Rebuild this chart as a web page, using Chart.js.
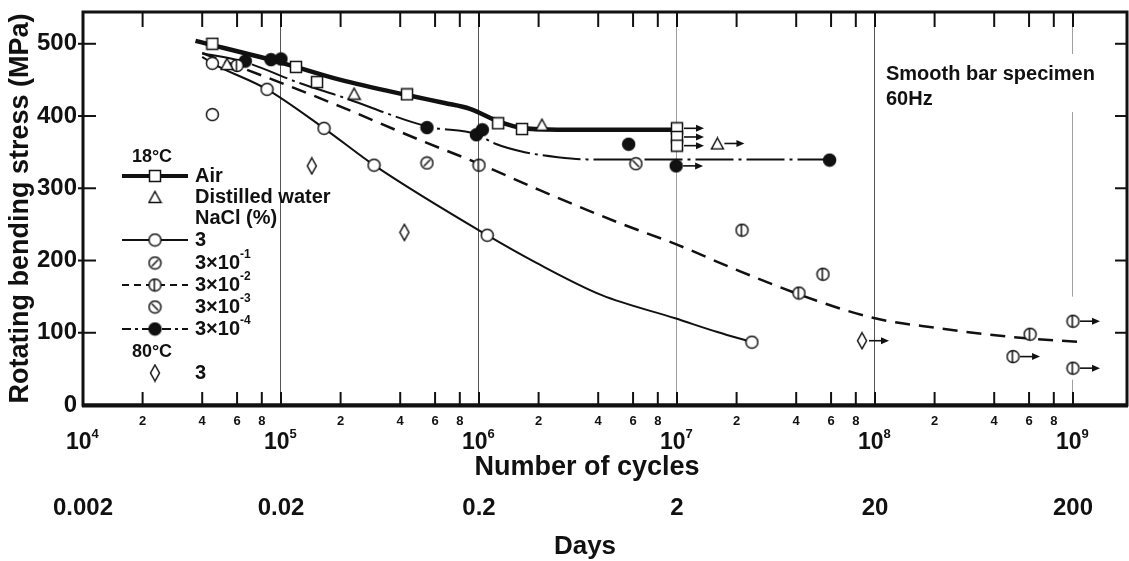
<!DOCTYPE html>
<html>
<head>
<meta charset="utf-8">
<script src="https://cdn.jsdelivr.net/npm/chart.js@4.4.1/dist/chart.umd.min.js"></script>
<style>
  html, body { margin: 0; padding: 0; background: #fff; overflow: hidden; }
  #wrap { width: 1129px; height: 561px; }
  canvas { display: block; }
</style>
</head>
<body>
<div id="wrap"><canvas id="c" width="1129" height="561"></canvas></div>
<script>
// ---------------- DATA ----------------
// Fitted curves [cycles, MPa]
const airCurve      = [[3.7e4,504],[1e5,474],[2e5,450],[4.5e5,428],[6.7e5,418],[9e5,410],[1.27e6,392],[1.7e6,383],[2.5e6,381],[1e7,381]];
const nacl3Curve    = [[4e4,482],[4.5e4,473],[8.5e4,437],[1.65e5,383],[2.95e5,332],[1.1e6,235],[1.94e6,197],[4.17e6,152],[9.8e6,120],[1.6e7,101],[2.39e7,87]];
const nacl3e2Curve  = [[4e4,487],[1e5,446],[2e5,413],[5e5,367],[1e6,334],[2e6,298],[5e6,253],[1e7,222],[2e7,187],[5e7,145],[1e8,120],[2e8,107],[5e8,94],[1.1e9,87]];
const nacl3e4Curve  = [[4e4,487],[6.5e4,475],[1.23e5,446],[2e5,427],[5.6e5,385],[9.7e5,375],[1.2e6,362],[1.7e6,350],[2.5e6,343],[3.5e6,340],[6e7,340]];

// Test points [cycles, MPa] and run-out flags (1 = not broken, arrow)
const airPts        = [[4.5e4,500],[1.19e5,468],[1.52e5,447],[4.33e5,430],[1.25e6,390],[1.65e6,382],[1e7,383],[1e7,371],[1e7,359]];
const airRunout     = [0,0,0,0,0,0,1,1,1];
const waterPts      = [[5.34e4,472],[2.34e5,431],[2.08e6,388],[1.6e7,362]];
const waterRunout   = [0,0,0,1];
const nacl3Pts      = [[4.5e4,473],[4.5e4,402],[8.5e4,437],[1.65e5,383],[2.95e5,332],[1.1e6,235],[2.39e7,87]];
const nacl3e1Pts    = [[5.46e5,335]];
const nacl3e2Pts    = [[6e4,470],[1e6,332],[2.13e7,242],[4.13e7,155],[5.46e7,181],[6.07e8,98],[4.98e8,67],[1e9,116],[1e9,51]];
const nacl3e2Runout = [0,0,0,0,0,0,1,1,1];
const nacl3e3Pts    = [[6.2e6,334]];
const nacl3e4Pts    = [[6.6e4,476],[8.9e4,478],[1e5,479],[5.46e5,384],[9.7e5,374],[1.04e6,381],[5.7e6,361],[9.9e6,331],[5.9e7,339]];
const nacl3e4Runout = [0,0,0,0,0,0,0,1,0];
const hot3Pts       = [[1.43e5,331],[4.2e5,239],[8.6e7,89]];
const hot3Runout    = [0,0,1];

// Axis ticks / labels
const yTicks        = [0,100,200,300,400,500];
const decadeExps    = [4,5,6,7,8,9];
const minorMults    = [2,4,6,8];
const dayTicks      = [0.002,0.02,0.2,2,20,200];
const dayLabels     = ['0.002','0.02','0.2','2','20','200'];
const CYCLES_PER_DAY_UNIT = 5e6; // 0.002 day label sits at 1e4 cycles

// ---------------- STYLE ----------------
const FAM = "'Liberation Sans', Arial, sans-serif";
const F = (s) => `bold ${s}px ${FAM}`;
const INK = '#111';
const XMIN = 1e4, XMAX = 1.874e9;

function sym(w, h, draw) {
  const c = document.createElement('canvas');
  c.width = w; c.height = h;
  const g = c.getContext('2d');
  g.strokeStyle = INK; g.fillStyle = '#fff'; g.lineWidth = 1.5;
  draw(g, w, h);
  return c;
}
function circ(g) { g.beginPath(); g.arc(7.5, 7.5, 6, 0, Math.PI * 2); g.fill(); g.stroke(); }
const SQ   = sym(14, 14, g => { g.fillRect(1.5, 1.5, 11, 11); g.strokeRect(1.5, 1.5, 11, 11); });
const TRI  = sym(15, 14, g => { g.beginPath(); g.moveTo(7.5, 1.5); g.lineTo(13.5, 12.5); g.lineTo(1.5, 12.5); g.closePath(); g.fill(); g.stroke(); });
const CIR  = sym(15, 15, circ);
const SL   = sym(15, 15, g => { circ(g); g.beginPath(); g.moveTo(4.3, 10.7); g.lineTo(10.7, 4.3); g.stroke(); });
const BSL  = sym(15, 15, g => { circ(g); g.beginPath(); g.moveTo(4.3, 4.3); g.lineTo(10.7, 10.7); g.stroke(); });
const PHI  = sym(15, 15, g => { circ(g); g.beginPath(); g.moveTo(6.8, 2); g.lineTo(6.8, 13); g.stroke(); });
const DOT  = sym(15, 15, g => { g.fillStyle = INK; circ(g); });
const DIA  = sym(12, 19, g => { g.beginPath(); g.moveTo(6, 1.5); g.lineTo(10.5, 9.5); g.lineTo(6, 17.5); g.lineTo(1.5, 9.5); g.closePath(); g.fill(); g.stroke(); });

const toXY = arr => arr.map(([x, y]) => ({ x, y }));

function curve(data, width, dash) {
  return { data: toXY(data), showLine: true, pointRadius: 0, borderColor: INK, borderWidth: width,
           borderDash: dash || [], cubicInterpolationMode: 'monotone', fill: false, order: 2 };
}
function marks(data, style, runout) {
  return { data: toXY(data), showLine: false, pointStyle: style, pointRadius: 7, order: 0, runout: runout || null };
}

const datasets = [
  curve(airCurve, 4.5),
  curve(nacl3Curve, 2),
  curve(nacl3e2Curve, 2.5, [15, 9]),
  curve(nacl3e4Curve, 2, [38, 5, 3, 5]),
  marks(airPts, SQ, airRunout),
  marks(waterPts, TRI, waterRunout),
  marks(nacl3Pts, CIR),
  marks(nacl3e1Pts, SL),
  marks(nacl3e2Pts, PHI, nacl3e2Runout),
  marks(nacl3e3Pts, BSL),
  marks(nacl3e4Pts, DOT, nacl3e4Runout),
  marks(hot3Pts, DIA, hot3Runout),
];

function line(ctx, x1, y1, x2, y2, w, dash) {
  ctx.save(); ctx.lineWidth = w; ctx.setLineDash(dash || []);
  ctx.beginPath(); ctx.moveTo(x1, y1); ctx.lineTo(x2, y2); ctx.stroke(); ctx.restore();
}
function text(ctx, s, x, y, size, align) {
  ctx.font = F(size); ctx.textAlign = align || 'left'; ctx.textBaseline = 'middle'; ctx.fillText(s, x, y);
}
function powText(ctx, pre, exp, x, y, size, supSize, supDy) {
  ctx.font = F(size); ctx.textAlign = 'left'; ctx.textBaseline = 'middle';
  ctx.fillText(pre, x, y);
  const w = ctx.measureText(pre).width;
  ctx.font = F(supSize);
  ctx.fillText(exp, x + w, y - supDy);
}

const deco = {
  id: 'deco',
  beforeDatasetsDraw(chart) {
    const { ctx, scales: { x, y } } = chart;
    ctx.save();
    ctx.fillStyle = '#fff';
    ctx.fillRect(880, 54, 228, 58);
    // gap in the 10^9 guide line around the run-out points
    const gx = x.getPixelForValue(1e9);
    const gy1 = y.getPixelForValue(150), gy2 = y.getPixelForValue(35);
    ctx.fillRect(gx - 2, gy1, 4, gy2 - gy1);
    ctx.fillStyle = INK;
    text(ctx, 'Smooth bar specimen', 886, 74, 20);
    text(ctx, '60Hz', 886, 99, 20);
    ctx.restore();
  },
  afterDraw(chart) {
    const { ctx, chartArea: a, scales: { x, y } } = chart;
    ctx.save();
    ctx.strokeStyle = INK; ctx.fillStyle = INK;

    // run-out arrows
    chart.data.datasets.forEach((ds, i) => {
      if (!ds.runout) return;
      const meta = chart.getDatasetMeta(i);
      ds.runout.forEach((r, j) => {
        if (!r) return;
        const p = meta.data[j];
        const x0 = p.x + 7, x1 = p.x + 27;
        line(ctx, x0, p.y, x1 - 6, p.y, 1.6);
        ctx.beginPath(); ctx.moveTo(x1, p.y); ctx.lineTo(x1 - 8, p.y - 3.5); ctx.lineTo(x1 - 8, p.y + 3.5); ctx.closePath(); ctx.fill();
      });
    });

    // frame
    ctx.lineWidth = 3;
    ctx.strokeRect(a.left, a.top, a.right - a.left, a.bottom - a.top);
    line(ctx, a.left - 1, a.bottom + 0.5, a.right + 1, a.bottom + 0.5, 4);

    // x ticks (bottom & top, inward) + labels
    decadeExps.forEach(e => {
      const vals = [Math.pow(10, e)].concat(minorMults.map(m => m * Math.pow(10, e)));
      vals.forEach((v, k) => {
        const px = x.getPixelForValue(v);
        if (px > a.left + 1 && px < a.right - 1) {
          line(ctx, px, a.bottom, px, a.bottom - 13, 2);
          line(ctx, px, a.top, px, a.top + 15, 2);
        }
        if (k > 0) { text(ctx, String(minorMults[k - 1]), px, 421, 13, 'center'); }
      });
      const dx = x.getPixelForValue(Math.pow(10, e));
      powText(ctx, '10', String(e), dx - 17, 443, 23, 13, 9);
    });
    text(ctx, '2', x.getPixelForValue(2e9), 421, 13, 'center');

    // y ticks inward both sides
    yTicks.forEach(v => {
      if (v === 0) return;
      const py = y.getPixelForValue(v);
      line(ctx, a.left - 5, py, a.left + 13, py, 2);
      line(ctx, a.right - 12, py, a.right, py, 2);
    });

    // axis titles
    text(ctx, 'Number of cycles', 587, 468, 27, 'center');
    text(ctx, 'Days', 585, 547, 26, 'center');

    // legend
    const LX = 155, TX = 195;
    text(ctx, '18°C', 152, 157, 18, 'center');
    line(ctx, 122, 176, 188, 176, 4);
    ctx.drawImage(SQ, LX - 7, 176 - 7);
    text(ctx, 'Air', TX, 176, 20);
    ctx.drawImage(TRI, LX - 7.5, 197 - 7);
    text(ctx, 'Distilled water', TX, 197, 20);
    text(ctx, 'NaCl (%)', TX, 218, 20);
    line(ctx, 122, 240, 188, 240, 2);
    ctx.drawImage(CIR, LX - 7.5, 240 - 7.5);
    text(ctx, '3', TX, 240, 20);
    ctx.drawImage(SL, LX - 7.5, 263 - 7.5);
    powText(ctx, '3×10', '-1', TX, 263, 20, 12, 8);
    line(ctx, 122, 285, 188, 285, 2.2, [7, 5]);
    ctx.drawImage(PHI, LX - 7.5, 285 - 7.5);
    powText(ctx, '3×10', '-2', TX, 285, 20, 12, 8);
    ctx.drawImage(BSL, LX - 7.5, 307 - 7.5);
    powText(ctx, '3×10', '-3', TX, 307, 20, 12, 8);
    line(ctx, 122, 329, 188, 329, 2.2, [9, 4, 3, 4]);
    ctx.drawImage(DOT, LX - 7.5, 329 - 7.5);
    powText(ctx, '3×10', '-4', TX, 329, 20, 12, 8);
    text(ctx, '80°C', 152, 352, 18, 'center');
    ctx.drawImage(DIA, LX - 6, 373 - 9.5);
    text(ctx, '3', TX, 373, 20);

    ctx.restore();
  }
};

new Chart(document.getElementById('c'), {
  type: 'scatter',
  data: { datasets },
  options: {
    responsive: false,
    animation: false,
    events: [],
    layout: { autoPadding: false, padding: { top: 12, right: 2, left: 0, bottom: 0 } },
    plugins: { legend: { display: false }, tooltip: { enabled: false } },
    scales: {
      x: {
        type: 'logarithmic', min: XMIN, max: XMAX, position: 'bottom',
        afterBuildTicks: s => { s.ticks = decadeExps.slice(1).map(e => ({ value: Math.pow(10, e) })); },
        ticks: { display: false },
        grid: { drawTicks: false, lineWidth: 1,
                color: c => (c.tick && (c.tick.value === 1e7 || c.tick.value === 1e9)) ? '#a0a0a0' : '#555' },
        border: { display: false },
        afterFit: s => { s.height = 80; s.paddingLeft = 0; s.paddingRight = 0; }
      },
      x2: {
        type: 'logarithmic', min: XMIN / CYCLES_PER_DAY_UNIT, max: XMAX / CYCLES_PER_DAY_UNIT, position: 'bottom',
        afterBuildTicks: s => { s.ticks = dayTicks.map(v => ({ value: v })); },
        ticks: { autoSkip: false, maxRotation: 0, padding: 9, color: INK,
                 font: { family: FAM, size: 24, weight: 'bold' },
                 callback: (v, i) => dayLabels[i] },
        grid: { display: false, drawTicks: false },
        border: { display: false },
        afterFit: s => { s.height = 76; s.paddingLeft = 0; s.paddingRight = 0; }
      },
      y: {
        min: 0, max: 544, position: 'left',
        afterBuildTicks: s => { s.ticks = yTicks.map(v => ({ value: v })); },
        ticks: { padding: 6, color: INK, font: { family: FAM, size: 24, weight: 'bold' } },
        grid: { display: false, drawTicks: false },
        border: { display: false },
        title: { display: true, text: 'Rotating bending stress (MPa)', color: INK,
                 font: { family: FAM, size: 27, weight: 'bold' }, padding: { top: 4, bottom: 0 } },
        afterFit: s => { s.width = 83; s.paddingTop = 0; s.paddingBottom = 0; }
      }
    }
  },
  plugins: [deco]
});
</script>
</body>
</html>
